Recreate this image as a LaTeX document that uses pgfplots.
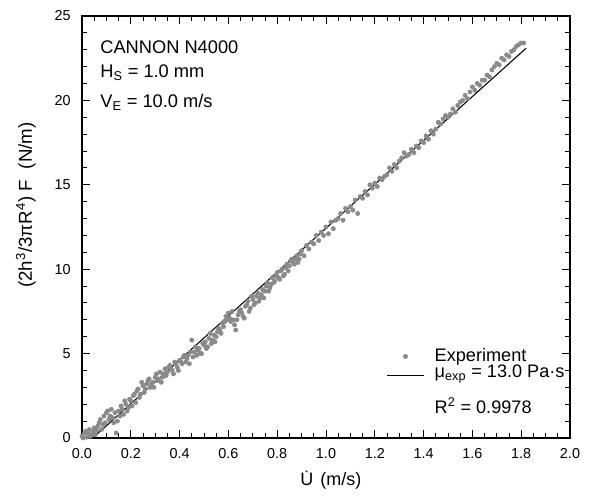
\documentclass[border=0pt]{standalone}
\usepackage{pgfplots}
\pgfplotsset{compat=1.18}
\usepackage{fontspec}
\setmainfont{Liberation Sans}
\definecolor{ptgray}{HTML}{8A8A8A}
\pgfplotsset{
  scatleg/.style={legend image code/.code={\draw[mark repeat=2,mark phase=2,##1] plot coordinates {(0pt,0pt) (14pt,0pt) (28pt,0pt)};}},
  lineleg/.style={legend image code/.code={\draw[##1] (0pt,0pt) -- (28pt,0pt);}},
}
\begin{document}
\begin{tikzpicture}
\begin{axis}[
 scale only axis, width=366pt, height=316.5pt,
 xmin=0, xmax=2, ymin=0, ymax=25,
 xtick={0,0.2,0.4,0.6,0.8,1.0,1.2,1.4,1.6,1.8,2.0},
 ytick={0,5,10,15,20,25},
 minor x tick num=3, minor y tick num=4,
 tick align=inside,
 major tick length=6pt, minor tick length=3.5pt,
 axis line style={line width=0.9pt},
 every tick/.style={black, line width=0.7pt},
 /pgf/number format/assume math mode=true,
 xticklabel style={/pgf/number format/fixed, /pgf/number format/fixed zerofill, /pgf/number format/precision=1, yshift=-4.5pt},
 yticklabel style={xshift=-5pt},
 tick label style={font=\fontsize{10.8}{13}\selectfont},
 xlabel={\.{U}\hspace{0.4em}(m/s)},
 ylabel={(2h\textsuperscript{3}/3πR\textsuperscript{4}) F\hspace{0.6em}(N/m)},
 every axis x label/.style={at={(axis description cs:0.51,-0.1)}, anchor=center, font=\fontsize{13.5}{16}\selectfont},
 every axis y label/.style={at={(axis description cs:-0.115,0.552)}, rotate=90, anchor=center, font=\fontsize{14}{16}\selectfont},
 legend style={draw=none, fill=none, at={(axis description cs:0.623,0.057)}, anchor=south west, inner sep=0pt,
   nodes={inner sep=0pt, text depth=}, column sep=7.5pt, row sep=0pt,
   font=\fontsize{13.6}{16}\selectfont, cells={anchor=west}},
]
\addplot[only marks, mark=*, mark size=1.6pt, color=ptgray, scatleg]
coordinates {
(0.00,0.1)(0.01,0.3)(0.02,0.05)(0.03,0.5)(0.04,0.2)(0.05,0.6)(0.06,0.45)(0.07,0.9)(0.08,0.5)(0.09,1.3)
(0.10,1.5)(0.11,1.1)(0.12,1.7)(0.13,0.9)(0.14,0.3)(0.15,1.6)(0.16,1.9)(0.17,1.4)(0.18,2.0)(0.19,1.8)
(0.20,2.2)(0.21,2.5)(0.22,2.1)(0.23,2.9)(0.24,2.6)(0.25,3.1)(0.26,2.9)(0.27,3.4)(0.28,3.0)(0.29,3.3)
(0.30,3.6)(0.31,3.4)(0.32,3.9)(0.33,3.6)(0.34,4.1)(0.35,3.9)(0.36,4.3)(0.37,4.0)(0.38,4.5)(0.39,4.2)
(0.40,4.6)(0.41,4.4)(0.42,4.9)(0.43,4.7)(0.44,4.4)(0.45,5.8)(0.46,5.1)(0.47,4.9)(0.48,5.3)(0.49,5.0)
(0.50,5.5)(0.51,5.3)(0.52,5.9)(0.53,5.6)(0.54,6.1)(0.55,6.0)(0.56,6.5)(0.57,6.2)(0.58,6.6)(0.59,7.2)
(0.60,7.4)(0.61,6.9)(0.62,7.0)(0.63,6.4)(0.64,7.3)(0.65,7.6)(0.66,7.2)(0.67,7.8)(0.68,8.1)(0.69,7.7)
(0.70,8.2)(0.71,8.0)(0.72,8.6)(0.73,8.3)(0.74,8.8)(0.75,8.7)(0.76,9.2)(0.77,8.9)(0.78,9.5)(0.79,9.3)
(0.80,9.8)(0.81,9.4)(0.82,10.0)(0.83,9.7)(0.84,10.3)(0.85,10.2)(0.86,10.6)(0.87,10.3)(0.88,10.8)(0.89,10.6)
(0.90,11.1)(0.91,10.8)(0.92,11.4)(0.93,11.2)(0.94,11.6)(0.95,11.5)(0.96,12.0)(0.97,11.7)(0.98,12.2)(0.99,12.0)
(1.00,12.5)(1.01,12.1)(1.02,12.8)(1.03,12.4)(1.04,12.9)(1.05,13.0)(1.06,13.3)(1.07,12.9)(1.08,13.6)(1.09,13.4)
(1.10,13.7)(1.11,13.5)(1.12,14.1)(1.13,13.3)(1.14,14.3)(1.15,14.2)(1.16,14.6)(1.17,14.4)(1.18,15.0)(1.19,14.8)
(1.20,15.1)(1.21,14.9)(1.22,15.4)(1.23,15.3)(1.24,15.5)(1.25,15.6)(1.26,16.0)(1.27,15.8)(1.28,16.2)(1.29,16.0)
(1.30,16.4)(1.31,16.6)(1.32,16.9)(1.33,16.7)(1.34,16.8)(1.35,17.1)(1.36,16.9)(1.37,17.3)(1.38,17.2)(1.39,17.6)
(1.40,17.5)(1.41,17.9)(1.42,17.7)(1.43,18.2)(1.44,18.0)(1.45,18.3)(1.46,18.7)(1.47,18.6)(1.48,18.9)(1.49,19.1)
(1.50,19.0)(1.51,19.2)(1.52,19.5)(1.53,19.3)(1.54,19.7)(1.55,19.9)(1.56,20.0)(1.57,20.3)(1.58,20.1)(1.59,20.5)
(1.60,20.8)(1.61,20.6)(1.62,21.0)(1.63,20.9)(1.64,21.2)(1.65,21.2)(1.66,21.5)(1.67,21.4)(1.68,21.8)(1.69,22.0)
(1.70,22.2)(1.71,22.1)(1.72,22.5)(1.73,22.4)(1.74,22.7)(1.75,22.6)(1.76,22.9)(1.77,23.0)(1.78,23.2)(1.79,23.3)
(1.80,23.4)(1.81,23.4)
(0.005,0.0)(0.015,0.4)(0.025,0.3)(0.035,0.1)(0.045,0.4)(0.055,0.2)(0.065,0.7)(0.075,1.1)(0.085,0.8)(0.095,0.9)
(0.105,1.6)(0.115,1.3)(0.125,1.2)(0.135,1.5)(0.145,1.0)(0.155,1.3)(0.165,1.7)(0.175,2.2)(0.185,1.6)(0.195,2.3)
(0.205,1.9)(0.215,2.6)(0.225,2.8)(0.235,2.4)(0.245,3.3)(0.255,2.7)(0.265,3.2)(0.275,3.5)(0.285,3.2)(0.295,3.0)
(0.305,3.8)(0.315,3.5)(0.325,3.3)(0.335,3.8)(0.345,3.7)(0.355,4.2)(0.365,4.1)(0.375,3.8)(0.385,4.4)(0.395,4.0)
(0.405,4.5)(0.415,4.8)(0.425,4.5)(0.435,4.9)(0.445,5.1)(0.455,4.8)(0.465,5.4)(0.475,5.2)(0.485,5.0)(0.495,5.6)
(0.505,5.7)(0.515,5.4)(0.525,6.2)(0.535,5.8)(0.545,5.7)(0.555,6.3)(0.565,6.4)(0.575,6.8)(0.585,6.9)(0.595,7.0)
(0.605,7.1)(0.615,7.5)(0.625,6.7)(0.635,7.0)(0.645,7.5)(0.655,7.4)(0.665,7.1)(0.675,7.9)(0.685,7.5)(0.695,8.4)
(0.705,7.9)(0.715,8.4)(0.725,8.1)(0.735,8.5)(0.745,8.3)(0.755,9.0)(0.765,8.7)(0.775,9.1)(0.785,9.2)(0.795,9.6)
(0.805,9.5)(0.815,9.9)(0.825,9.6)(0.835,10.1)(0.845,9.9)(0.855,10.5)(0.865,10.4)(0.875,10.6)(0.885,10.4)(0.895,10.9)
};
\addlegendentry{\rule[-3pt]{0pt}{13pt}Experiment}
\addplot[black, line width=0.8pt, lineleg]
coordinates {(0.044,0) (1.82,23.09)};
\addlegendentry{\rule[-5.5pt]{0pt}{14.5pt}μ\textsubscript{exp} = 13.0 Pa·s}
\addlegendimage{empty legend}
\addlegendentry{\rule{0pt}{21.3pt}R\textsuperscript{2} = 0.9978}
\node[anchor=north west, inner sep=0pt, align=left, font=\fontsize{13.7}{18}\selectfont]
  at (axis description cs:0.037,0.941) {CANNON N4000\\H\textsubscript{S} = 1.0 mm\\[4.5pt]V\textsubscript{E} = 10.0 m/s};
\end{axis}
\path (-61.5pt,-43.5pt) rectangle (383.25pt,328.5pt);
\end{tikzpicture}
\end{document}
